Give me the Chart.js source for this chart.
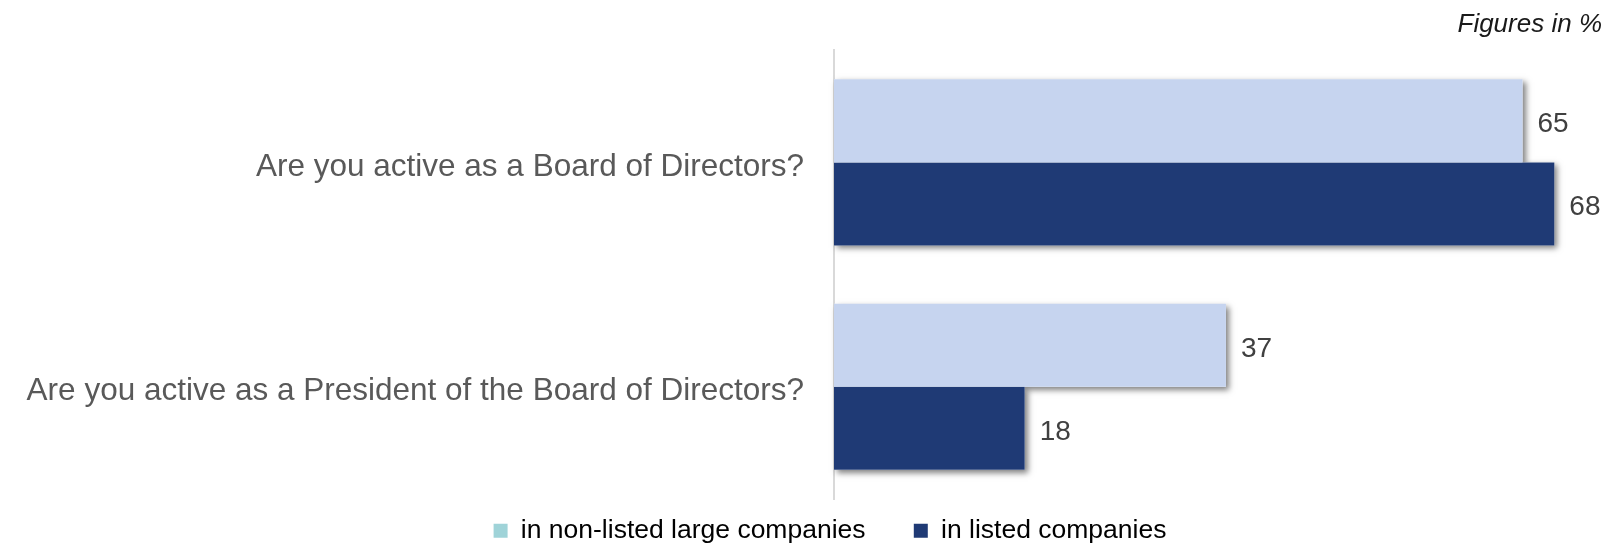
<!DOCTYPE html>
<html>
<head>
<meta charset="utf-8">
<title>Board activity</title>
<script src="https://cdn.jsdelivr.net/npm/chart.js@4/dist/chart.umd.min.js"></script>
<style>
    html, body { margin: 0; padding: 0; background: #fff; }
    #wrap { position: relative; width: 1610px; height: 544px; }
</style>
</head>
<body>
<div id="wrap"><canvas id="Graphic"></canvas></div>
<script>
const questions = [
    "Are you active as a Board of Directors?",
    "Are you active as a President of the Board of Directors?"
];
const seriesNames = ["in non-listed large companies", "in listed companies"];
const nonListed = [65, 37];
const listed = [68, 18];

const barColors = ["#c6d4ef", "#1f3a75"];
const legendColors = ["#9fd3d8", "#1f3a75"];
const FONT = "'Liberation Sans', Arial, sans-serif";
const AXIS_X = 834;
const LEGEND_SHIFT_X = 29;
const LEGEND_SHIFT_Y = 10;

// soft drop shadow behind every bar, drawn before the bars themselves
const barShadow = {
    id: "barShadow",
    beforeDatasetsDraw(chart) {
        const ctx = chart.ctx;
        ctx.save();
        ctx.shadowColor = "rgba(0,0,0,0.5)";
        ctx.shadowBlur = 6;
        ctx.shadowOffsetX = 3;
        ctx.shadowOffsetY = 3;
        ctx.fillStyle = "#fff";
        chart.data.datasets.forEach((ds, i) => {
            chart.getDatasetMeta(i).data.forEach(bar => {
                const { x, y, base, height } = bar.getProps(["x", "y", "base", "height"], true);
                ctx.fillRect(base, y - height / 2, x - base, height);
            });
        });
        ctx.restore();
    }
};

// numbers to the right of each bar
const valueLabels = {
    id: "valueLabels",
    afterDatasetsDraw(chart) {
        const ctx = chart.ctx;
        ctx.save();
        ctx.font = "28px " + FONT;
        ctx.fillStyle = "#404040";
        ctx.textAlign = "left";
        ctx.textBaseline = "middle";
        chart.data.datasets.forEach((ds, i) => {
            chart.getDatasetMeta(i).data.forEach((bar, j) => {
                const { x, y } = bar.getProps(["x", "y"], true);
                ctx.fillText(String(ds.data[j]), x + 15, y + 3.5);
            });
        });
        ctx.restore();
    }
};

// nudge the legend right of centre and a bit lower
const legendOffset = {
    id: "legendOffset",
    afterLayout(chart) {
        const lg = chart.legend;
        if (lg) {
            lg.left += LEGEND_SHIFT_X;
            lg.right += LEGEND_SHIFT_X;
            lg.top += LEGEND_SHIFT_Y;
            lg.bottom += LEGEND_SHIFT_Y;
        }
    }
};

new Chart(document.getElementById("Graphic").getContext("2d"), {
    type: "bar",
    data: {
        labels: questions,
        datasets: [
            { label: seriesNames[0], data: nonListed, backgroundColor: barColors[0] },
            { label: seriesNames[1], data: listed, backgroundColor: barColors[1] }
        ]
    },
    options: {
        indexAxis: "y",
        responsive: true,
        maintainAspectRatio: false,
        animation: false,
        categoryPercentage: 0.74,
        barPercentage: 1,
        layout: { padding: { left: 0, right: 8, top: 0, bottom: 0 } },
        scales: {
            x: {
                display: false,
                min: 0,
                max: 72.5
            },
            y: {
                afterFit(scale) { scale.width = AXIS_X; },
                grid: { display: false, drawTicks: false },
                border: { display: true, color: "#d9d9d9", width: 2 },
                ticks: {
                    color: "#595959",
                    padding: 30,
                    labelOffset: 5,
                    font: { family: FONT, size: 31.5, lineHeight: 0.95 }
                }
            }
        },
        plugins: {
            tooltip: { enabled: false },
            title: {
                display: true,
                text: "Figures in %",
                align: "end",
                color: "#1a1a1a",
                font: { family: FONT, size: 26, style: "italic", weight: "normal" },
                padding: { top: 9.5, bottom: 9.5 }
            },
            legend: {
                position: "bottom",
                labels: {
                    color: "#595959",
                    boxWidth: 14,
                    boxHeight: 14,
                    padding: 8.5,
                    font: { family: FONT, size: 26.5 },
                    generateLabels(chart) {
                        const last = chart.data.datasets.length - 1;
                        return chart.data.datasets.map((ds, i) => ({
                            // extra spaces widen the gap between the two entries
                            text: i < last ? ds.label + "\u2002\u2002\u2002" : ds.label,
                            fillStyle: legendColors[i],
                            strokeStyle: legendColors[i],
                            lineWidth: 0,
                            datasetIndex: i,
                            hidden: false
                        }));
                    }
                }
            }
        }
    },
    plugins: [barShadow, valueLabels, legendOffset]
});
</script>
</body>
</html>
